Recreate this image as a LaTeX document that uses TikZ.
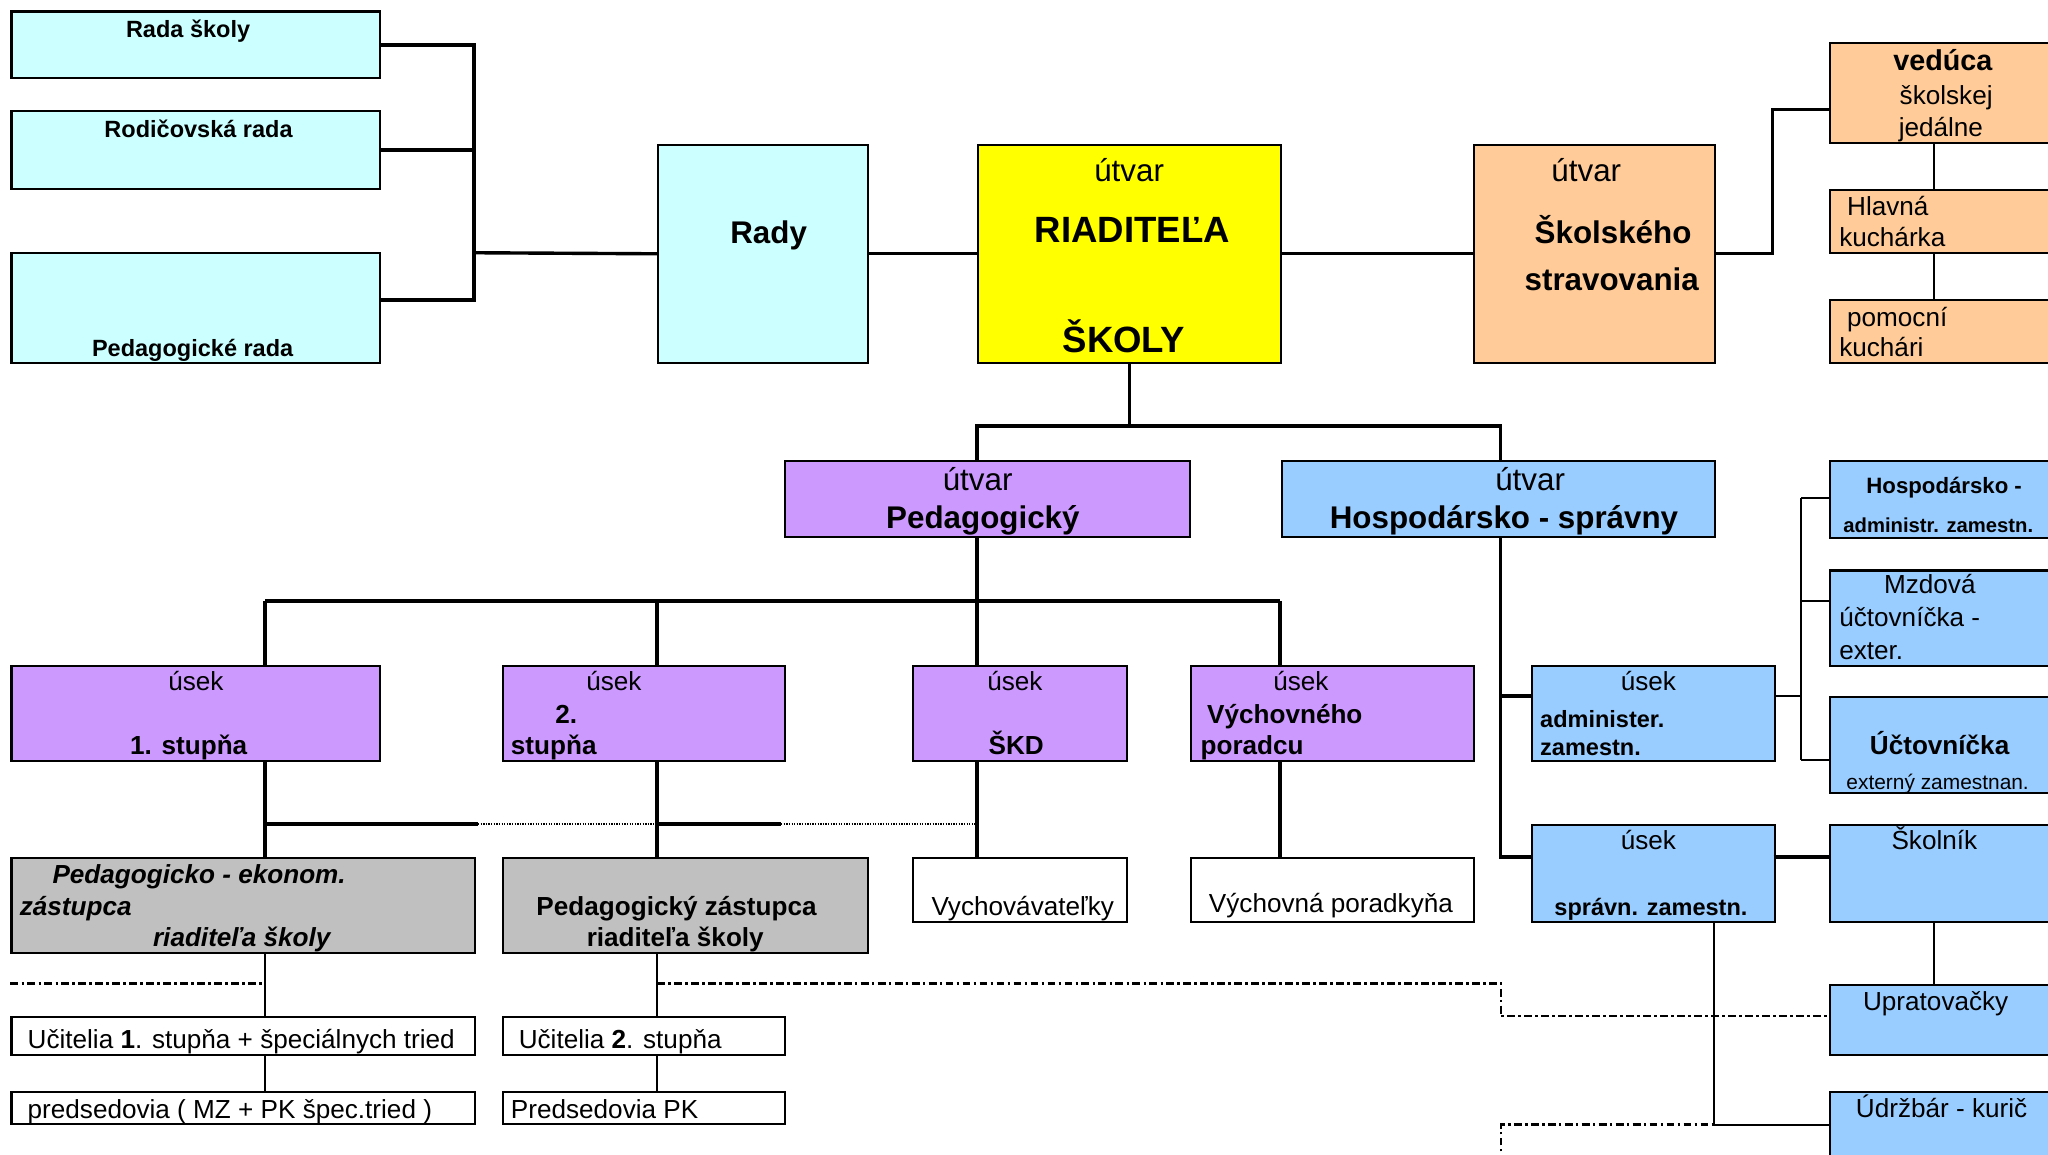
\documentclass[tikz,border=0pt]{standalone}
\usepackage{fontspec}
\setmainfont{Liberation Sans}
\definecolor{cy}{HTML}{CCFFFF}
\definecolor{ye}{HTML}{FFFF00}
\definecolor{pe}{HTML}{FFCC99}
\definecolor{pu}{HTML}{CC99FF}
\definecolor{bl}{HTML}{99CCFF}
\definecolor{gr}{HTML}{C0C0C0}
\newcommand\mybox[6]{%
 \pgfmathsetmacro\bw{#4-#2}\pgfmathsetmacro\bh{#5-#3}%
 \node[bxs,#6,minimum width=\bw pt,minimum height=\bh pt] (#1) at (#2,#3) {};}
\tikzset{
 bxs/.style={draw=black,line width=1.6pt,rectangle,inner sep=0pt,anchor=north west},
 conn/.style={line width=2.6pt},
 thinl/.style={line width=1.4pt},
 dd/.style={line width=1.9pt,dash pattern=on 6pt off 2.5pt on 2pt off 2.5pt},
 dots/.style={line width=1.1pt,dash pattern=on 1pt off 1pt},
 lbl/.style={inner sep=0pt,anchor=mid,yshift=-5pt,font=\fontsize{20}{24}\selectfont},
 lblL/.style={lbl,anchor=mid west},
 b18/.style={font=\fontsize{18}{22}\selectfont\bfseries},
 b20/.style={font=\fontsize{20}{24}\selectfont\bfseries},
 b22/.style={font=\fontsize{22}{26}\selectfont\bfseries,yshift=-0.5pt},
 b24/.style={font=\fontsize{24}{28}\selectfont\bfseries,yshift=-1pt},
 b28/.style={font=\fontsize{28}{32}\selectfont\bfseries,yshift=-2pt},
 n24/.style={font=\fontsize{24}{28}\selectfont,yshift=-1pt},
 bi20/.style={font=\fontsize{20}{24}\selectfont\bfseries\itshape},
}
\begin{document}
\begin{tikzpicture}[x=1pt,y=-1pt]
\clip (0,0) rectangle (1568,884);
\fill[white] (0,0) rectangle (1568,884);
% boxes
\mybox{rada}{8}{8}{290}{59}{fill=cy}
\mybox{rodic}{8}{84}{290}{144}{fill=cy}
\mybox{pedrada}{8}{193}{290}{277}{fill=cy}
\mybox{rady}{503}{110}{664}{277}{fill=cy}
\mybox{dir}{748}{110}{980}{277}{fill=ye}
\mybox{skol}{1128}{110}{1312}{277}{fill=pe}
\mybox{ved}{1400}{32}{1580}{109}{fill=pe}
\mybox{hlav}{1400}{145}{1580}{193}{fill=pe}
\mybox{pomoc}{1400}{229}{1580}{277}{fill=pe}
\mybox{pedu}{600}{352}{910}{410}{fill=pu}
\mybox{hospu}{981}{352}{1312}{410}{fill=bl}
\mybox{us1}{8}{509}{290}{582}{fill=pu}
\mybox{us2}{384}{509}{600}{582}{fill=pu}
\mybox{skd}{698}{509}{862}{582}{fill=pu}
\mybox{vp}{911}{509}{1128}{582}{fill=pu}
\mybox{zast1}{8}{656}{363}{729}{fill=gr}
\mybox{zast2}{384}{656}{664}{729}{fill=gr}
\mybox{vych}{698}{656}{862}{705}{fill=white}
\mybox{vpor}{911}{656}{1128}{705}{fill=white}
\mybox{uc1}{8}{778}{363}{807}{fill=white}
\mybox{pr1}{8}{835}{363}{860}{fill=white}
\mybox{uc2}{384}{778}{600}{807}{fill=white}
\mybox{pr2}{384}{835}{600}{860}{fill=white}
\mybox{adm}{1172}{509}{1358}{582}{fill=bl}
\mybox{hadm}{1400}{352}{1580}{411}{fill=bl}
\mybox{mzd}{1400}{436}{1580}{509}{fill=bl}
\mybox{uct}{1400}{533}{1580}{606}{fill=bl}
\mybox{spr}{1172}{631}{1358}{705}{fill=bl}
\mybox{skoln}{1400}{631}{1580}{705}{fill=bl}
\mybox{uprat}{1400}{753}{1580}{807}{fill=bl}
\mybox{udrz}{1400}{835}{1580}{900}{fill=bl}
% coordinates
\coordinate (busR) at (363,193.5);
\coordinate (skbus) at (1357,84);
\coordinate (kx) at (1481,0);
\coordinate (pedx) at (748,326);
\coordinate (hospx) at (1149,326);
\coordinate (c1) at (203,460);
\coordinate (c2) at (503,460);
\coordinate (c3) at (748,460);
\coordinate (c4) at (980,460);
\coordinate (h1) at (203,631);
\coordinate (h2) at (366,631);
\coordinate (h3) at (503,631);
\coordinate (h4) at (598,631);
\coordinate (h5) at (748,631);
\coordinate (dA) at (8,753);
\coordinate (dB) at (203,753);
\coordinate (dC) at (503,753);
\coordinate (dD) at (1149,753);
\coordinate (dE) at (1149,778);
\coordinate (dF) at (1149,861);
\coordinate (dG) at (1312,861);
\coordinate (dH) at (1149,890);
\coordinate (ha) at (1149,533);
\coordinate (hv) at (1149,656);
\coordinate (ab) at (1379,533);
\coordinate (ab1) at (1379,381);
\coordinate (ab2) at (1379,460);
\coordinate (ab3) at (1379,582);
\coordinate (sk) at (1358,656);
% connectors
\draw[conn] (rada.east) -| (busR);
\draw[conn] (rodic.east) -| (busR);
\draw[conn] ([yshift=6pt]pedrada.east) -| (busR);
\draw[conn] (busR) -- (rady.west);
\draw[conn] (rady.east) -- (dir.west);
\draw[conn] (dir.east) -- (skol.west);
\draw[conn] (skol.east) -| (skbus) -- (skbus -| ved.west);
\draw[thinl] (ved.south -| kx) -- (hlav.north -| kx);
\draw[thinl] (hlav.south -| kx) -- (pomoc.north -| kx);
\draw[conn] (dir.south) -- (dir.south |- pedx);
\draw[conn] (pedu.north -| pedx) -- (pedx) -- (hospx) -- (hospu.north -| hospx);
\draw[conn] (pedu.south -| c3) -- (c3);
\draw[conn] (c1) -- (c4);
\draw[conn] (c1) -- (c1 |- us1.north);
\draw[conn] (c2) -- (c2 |- us2.north);
\draw[conn] (c3) -- (c3 |- skd.north);
\draw[conn] (c4) -- (c4 |- vp.north);
\draw[conn] (us1.south -| c1) -- (zast1.north -| c1);
\draw[conn] (us2.south -| c2) -- (zast2.north -| c2);
\draw[conn] (skd.south -| c3) -- (vych.north -| c3);
\draw[conn] (vp.south -| c4) -- (vpor.north -| c4);
\draw[conn] (h1) -- (h2);
\draw[dots] (h2) -- (h3);
\draw[conn] (h3) -- (h4);
\draw[dots] (h4) -- (h5);
\draw[thinl] (zast1.south -| c1) -- (uc1.north -| c1);
\draw[thinl] (uc1.south -| c1) -- (pr1.north -| c1);
\draw[thinl] (zast2.south -| c2) -- (uc2.north -| c2);
\draw[thinl] (uc2.south -| c2) -- (pr2.north -| c2);
\draw[dd] (dA) -- (dB);
\draw[dd] (dC) -- (dD) -- (dE) -- (dE -| uprat.west);
\draw[dd] (dH) -- (dF) -- (dG);
\draw[thinl] (spr.south -| dG) -- (dG) -- (dG -| udrz.west);
\draw[conn] (hospu.south -| hospx) -- (hv) -- (hv -| spr.west);
\draw[conn] (ha) -- (ha -| adm.west);
\draw[thinl] (ab -| adm.east) -- (ab);
\draw[thinl] (ab1) -- (ab3);
\draw[thinl] (ab1) -- (ab1 -| hadm.west);
\draw[thinl] (ab2) -- (ab2 -| mzd.west);
\draw[thinl] (ab3) -- (ab3 -| uct.west);
\draw[conn] (sk) -- (sk -| skoln.west);
\draw[thinl] (skoln.south -| kx) -- (uprat.north -| kx);
% texts
\node[lbl,b18] (t1) at (144,21) {Rada školy};
\node[lbl,b18] (t2) at (152,98) {Rodičovská rada};
\node[lbl,b18] (t3) at (147.5,265) {Pedagogické rada};
\node[lbl,b24] (t4) at (588.5,178) {Rady};
\node[lbl,n24] (t5) at (864.5,130) {útvar};
\node[lbl,b28] (t6) at (867,176) {RIADITEĽA};
\node[lbl,b28] (t7) at (860.5,260) {ŠKOLY};
\node[lbl,n24] (t8) at (1214.5,130) {útvar};
\node[lbl,b24] (t9) at (1235,178) {Školského};
\node[lbl,b24] (t10) at (1234,214) {stravovania};
\node[lbl,b22] (t11) at (1487.5,46) {vedúca};
\node[lbl] (t12) at (1490,72) {školskej};
\node[lbl] (t13) at (1486,97) {jedálne};
\node[lblL] (t14) at (1414,157) {Hlavná};
\node[lblL] (t15) at (1408,181) {kuchárka};
\node[lblL] (t16) at (1414,242) {pomocní};
\node[lblL] (t17) at (1408,265) {kuchári};
\node[lbl,n24] (t18) at (748.5,367) {útvar};
\node[lbl,b24] (t19) at (752.5,396) {Pedagogický};
\node[lbl,n24] (t20) at (1171.5,367) {útvar};
\node[lbl,b24] (t21) at (1151.5,396) {Hospodársko - správny};
\node[lbl] (t22) at (150,521) {úsek};
\node[lbl,b20] (t23) at (144.5,570) {1. stupňa};
\node[lbl] (t24) at (470,521) {úsek};
\node[lbl,b20] (t25) at (433.5,546) {2.};
\node[lblL,b20] (t26) at (391,570) {stupňa};
\node[lbl] (t27) at (777,521) {úsek};
\node[lbl,b20] (t28) at (778,570) {ŠKD};
\node[lbl] (t29) at (996,521) {úsek};
\node[lblL,b20] (t30) at (924,546) {Výchovného};
\node[lblL,b20] (t31) at (919,570) {poradcu};
\node[lblL,bi20] (t32) at (40,669) {Pedagogicko - ekonom.};
\node[lblL,bi20] (t33) at (15,693) {zástupca};
\node[lblL,bi20] (t34) at (117,717) {riaditeľa školy};
\node[lbl,b20] (t35) at (518,693) {Pedagogický zástupca};
\node[lbl,b20] (t36) at (517,717) {riaditeľa školy};
\node[lbl] (t37) at (783,693) {Vychovávateľky};
\node[lbl] (t38) at (1019,691) {Výchovná poradkyňa};
\node[lblL] (t39) at (21,795) {Učitelia \textbf{1}. stupňa + špeciálnych tried};
\node[lblL] (t40) at (21,849) {predsedovia ( MZ + PK špec.tried )};
\node[lblL] (t41) at (397,795) {Učitelia \textbf{2}. stupňa};
\node[lblL] (t42) at (391,849) {Predsedovia PK};
\node[lbl] (t43) at (1262,521) {úsek};
\node[lblL,b18] (t44) at (1179,549) {administer.};
\node[lblL,b18] (t45) at (1179,571) {zamestn.};
\node[lbl,font=\fontsize{17}{20}\selectfont\bfseries] (t46) at (1488.5,370) {Hospodársko -};
\node[lbl,font=\fontsize{15.5}{18}\selectfont\bfseries] (t47) at (1484,400) {administr. zamestn.};
\node[lbl] (t48) at (1477.5,447) {Mzdová};
\node[lblL] (t49) at (1408,472) {účtovníčka -};
\node[lblL] (t50) at (1408,497) {exter.};
\node[lbl,b20] (t51) at (1485,570) {Účtovníčka};
\node[lbl,font=\fontsize{16}{19}\selectfont] (t52) at (1483.5,597) {externý zamestnan.};
\node[lbl] (t53) at (1262,643) {úsek};
\node[lbl,b18] (t54) at (1264,693) {správn. zamestn.};
\node[lbl] (t55) at (1481,643) {Školník};
\node[lbl] (t56) at (1482,766) {Upratovačky};
\node[lbl] (t57) at (1486.5,848) {Údržbár - kurič};
\end{tikzpicture}
\end{document}
